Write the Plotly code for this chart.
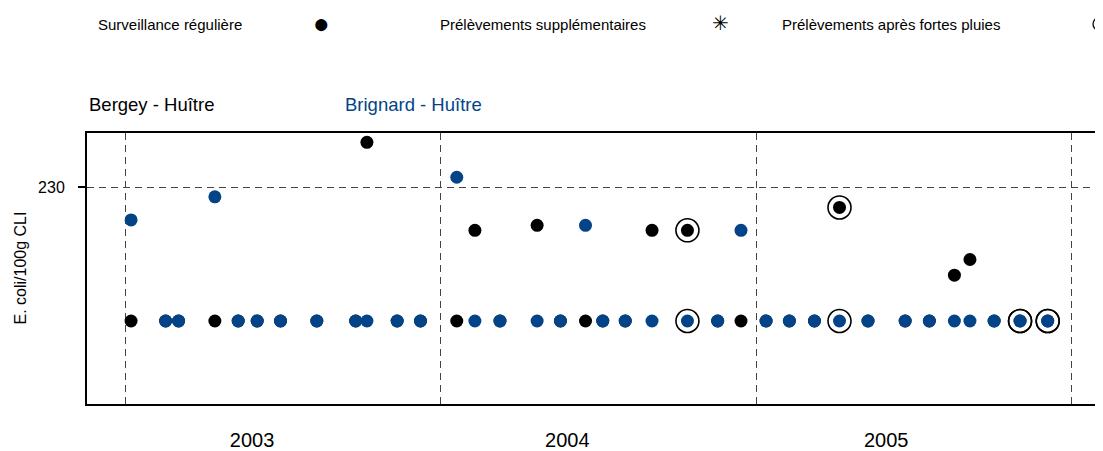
"""E. coli results, Bergey and Brignard oyster sites, 2003-2005."""
import plotly.graph_objects as go

dates = [
    '2003-01-08', '2003-02-17', '2003-03-04', '2003-04-15', '2003-05-12', '2003-06-03',
    '2003-06-30', '2003-08-11', '2003-09-25', '2003-10-08', '2003-11-12', '2003-12-09',
    '2004-01-20', '2004-02-10', '2004-03-10', '2004-04-22', '2004-05-19', '2004-06-17',
    '2004-07-07', '2004-08-02', '2004-09-02', '2004-10-13', '2004-11-17', '2004-12-14',
    '2005-01-12', '2005-02-08', '2005-03-09', '2005-04-07', '2005-05-10', '2005-06-22',
    '2005-07-20', '2005-08-18', '2005-09-05', '2005-10-03', '2005-11-02', '2005-12-04',
]
bergey = [
    18, 18, 18, 18, 18, 18, 18, 18, 18, 538, 18, 18,
    18, 101, 18, 111, 18, 18, 18, 18, 101, 101, 18, 18,
    18, 18, 18, 156, 18, 18, 18, 43, 58, 18, 18, 18,
]
brignard = [
    123, 18, 18, 191, 18, 18, 18, 18, 18, 18, 18, 18,
    277, 18, 18, 18, 18, 111, 18, 18, 18, 18, 18, 101,
    18, 18, 18, 18, 18, 18, 18, 18, 18, 18, 18, 18,
]
# sampling after heavy rain (index in dates)
rain_idx = [21, 27, 34, 35]

year_starts = ['2003-01-01', '2004-01-01', '2005-01-01', '2006-01-01']
year_label_pos = ['2003-05-28', '2004-05-27', '2005-05-31']
year_labels = ['2003', '2004', '2005']
threshold = [230]

BLUE = '#034488'
FONT = 'Liberation Sans, Arial, sans-serif'

rain_x = [dates[i] for i in rain_idx] * 2
rain_y = [bergey[i] for i in rain_idx] + [brignard[i] for i in rain_idx]

fig = go.Figure()
fig.add_trace(go.Scatter(x=dates, y=bergey, mode='markers', name='Bergey - Huître',
                         marker=dict(color='black', size=13)))
fig.add_trace(go.Scatter(x=dates, y=brignard, mode='markers', name='Brignard - Huître',
                         marker=dict(color=BLUE, size=13)))
fig.add_trace(go.Scatter(x=rain_x, y=rain_y, mode='markers', name='Prélèvements après fortes pluies',
                         marker=dict(symbol='circle-open', color='black', size=23,
                                     line=dict(width=1.6, color='black'))))

fig.update_xaxes(type='date', range=['2002-11-18', '2006-02-06'], automargin=False,
                 tickvals=year_label_pos, ticktext=year_labels, ticks='',
                 ticklabelstandoff=17, tickfont=dict(size=20, color='black'),
                 showgrid=False, zeroline=False,
                 showline=True, linecolor='black', linewidth=2, mirror=True,
                 minor=dict(tickvals=year_starts, showgrid=True, gridcolor='#444',
                            gridwidth=1, griddash='7px,5px', ticks=''))
fig.update_yaxes(type='log', range=[0.570, 2.808], automargin=False,
                 tickvals=threshold, ticktext=['230'], ticks='outside', ticklen=7,
                 ticklabelstandoff=10,
                 tickwidth=1.5, tickcolor='black', tickfont=dict(size=16, color='black'),
                 showgrid=True, gridcolor='#444', gridwidth=1, griddash='7px,5px',
                 zeroline=False, showline=True, linecolor='black', linewidth=2)

annotations = [
    dict(text='Bergey - Huître', x=0, y=1.107, xanchor='left', font=dict(size=18.5, color='black')),
    dict(text='Brignard - Huître', x=(343 - 87) / 1016, y=1.107, xanchor='left',
         font=dict(size=18.5, color=BLUE)),
    dict(text='E. coli/100g CLI', x=(20 - 87) / 1016, y=0.5, xanchor='center', textangle=-90,
         font=dict(size=16, color='black')),
    dict(text='Surveillance régulière', x=(96 - 87) / 1016, y=1.402, xanchor='left', font=dict(size=15)),
    dict(text='●', x=(321 - 87) / 1016, y=1.405, xanchor='center', font=dict(size=28, color='black')),
    dict(text='Prélèvements supplémentaires', x=(438 - 87) / 1016, y=1.402, xanchor='left', font=dict(size=15)),
    dict(text='✳', x=(720 - 87) / 1016, y=1.405, xanchor='center', font=dict(size=20, color='black')),
    dict(text='Prélèvements après fortes pluies', x=(780 - 87) / 1016, y=1.402, xanchor='left', font=dict(size=15)),
]
for a in annotations:
    a.update(xref='paper', yref='paper', yanchor='middle', showarrow=False)

# legend key for the heavy-rain ring, cut off by the right edge as in the original
fig.add_shape(type='circle', xref='paper', yref='paper',
              x0=(1093 - 87) / 1016, x1=(1106 - 87) / 1016,
              y0=(404 - 30.5) / 271, y1=(404 - 17.5) / 271,
              line=dict(color='black', width=1.3))

# the page body has an 8px margin, so the figure is 8px smaller and the margins are shifted back
fig.update_layout(width=1095, height=443, margin=dict(l=79, r=0, t=125, b=47),
                  paper_bgcolor='white', plot_bgcolor='white', showlegend=False,
                  font=dict(family=FONT, color='black'), annotations=annotations)

fig.write_html('out.html')
